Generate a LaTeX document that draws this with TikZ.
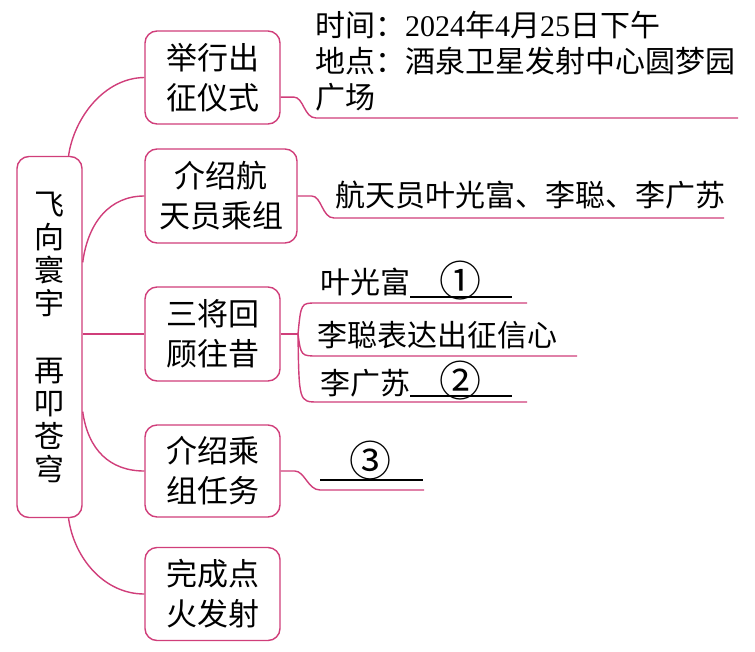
\documentclass[tikz,border=0pt]{standalone}
\usepackage{fontspec}
\setmainfont{Noto Sans CJK SC}
\newfontfamily\latin{Liberation Serif}
\usetikzlibrary{positioning}
\definecolor{branch}{RGB}{208,62,122}
\tikzset{
  topic/.style={draw=branch, line width=1.4pt, rounded corners=12pt, align=center,
                inner sep=0pt, font=\fontsize{31}{40}\selectfont},
  link/.style={draw=branch, line width=1.4pt},
  leaf/.style={anchor=west, inner sep=0pt, align=left, font=\fontsize{30}{36}\selectfont},
  answer/.style={inner sep=0pt, font=\fontsize{42}{42}\selectfont},
  blank/.style={draw=black, line width=1.1pt}
}
\begin{document}
\begin{tikzpicture}[x=1pt,y=-1pt]
\useasboundingbox (0,0) rectangle (755,651);

% root and the five topics
\node[topic, minimum width=65pt, minimum height=361pt, font=\fontsize{30}{33}\selectfont]
  (root) at (49.5,337) {飞\\向\\寰\\宇\\[34pt]再\\叩\\苍\\穹};
\node[topic, minimum width=135pt, minimum height=93pt] (t1) at (212.5,77.5) {举行出\\征仪式};
\node[topic, minimum width=152pt, minimum height=94pt] (t2) at (221,196) {介绍航\\天员乘组};
\node[topic, minimum width=135pt, minimum height=94pt] (t3) at (212.5,334) {三将回\\顾往昔};
\node[topic, minimum width=135pt, minimum height=92pt] (t4) at (212.5,471) {介绍乘\\组任务};
\node[topic, minimum width=135pt, minimum height=93pt] (t5) at (212.5,594) {完成点\\火发射};

\draw[link] (root.84) .. controls (74,118) and (104,78) .. (t1.west);
\draw[link] (root.66) .. controls (88,222) and (110,196) .. (t2.west);
\draw[link] (root.east |- t3.west) -- (t3.west);
\draw[link] (root.-66) .. controls (88,450) and (110,471) .. (t4.west);
\draw[link] (root.-84) .. controls (74,558) and (104,594) .. (t5.west);

% leaves
\node[leaf] (place) at (315,61) {时间：{\latin 2024}年{\latin 4}月{\latin 25}日下午\\
  地点：酒泉卫星发射中心圆梦园\\广场};
\node[leaf] (crew) at (335,195) {航天员叶光富、李聪、李广苏};
\node[leaf] (ye) at (320,282) {叶光富};
\node[leaf] (li) at (317,335) {李聪表达出征信心};
\node[leaf] (lgs) at (320,383) {李广苏};
\node[answer] (q1) at (460,281) {①};
\node[answer] (q2) at (460,381) {②};
\node[answer] (q3) at (370,461) {③};

\coordinate (u1s) at (316,118);  \coordinate (u1e) at (738,118);
\coordinate (u2s) at (334,218);  \coordinate (u2e) at (724,218);
\coordinate (fork) at (298,334);
\coordinate (u3a) at (316,303);  \coordinate (u3ae) at (527,303);
\coordinate (u3b) at (318,356);  \coordinate (u3be) at (577,356);
\coordinate (u3c) at (318,402);  \coordinate (u3ce) at (527,402);
\coordinate (u4s) at (320,490);  \coordinate (u4e) at (424,490);

\draw[link] (t1.-16) -- ++(13,0) .. controls +(10,0) and +(-12,0) .. (u1s) -- (u1e);
\draw[link] (t2.east) -- ++(14,0) .. controls +(10,0) and +(-12,0) .. (u2s) -- (u2e);
\draw[link] (t3.east) -- (fork);
\draw[link] (fork) .. controls (301,303) .. (u3a) -- (u3ae);
\draw[link] (fork) .. controls (301,356) .. (u3b) -- (u3be);
\draw[link] (fork) .. controls (299,402) .. (u3c) -- (u3ce);
\draw[link] (t4.east) -- ++(14,0) .. controls +(10,0) and +(-12,0) .. (u4s) -- (u4e);

% answer blanks
\draw[blank] (410,297) -- (512,297);
\draw[blank] (410,396) -- (512,396);
\draw[blank] (320,480) -- (423,480);

\end{tikzpicture}
\end{document}
